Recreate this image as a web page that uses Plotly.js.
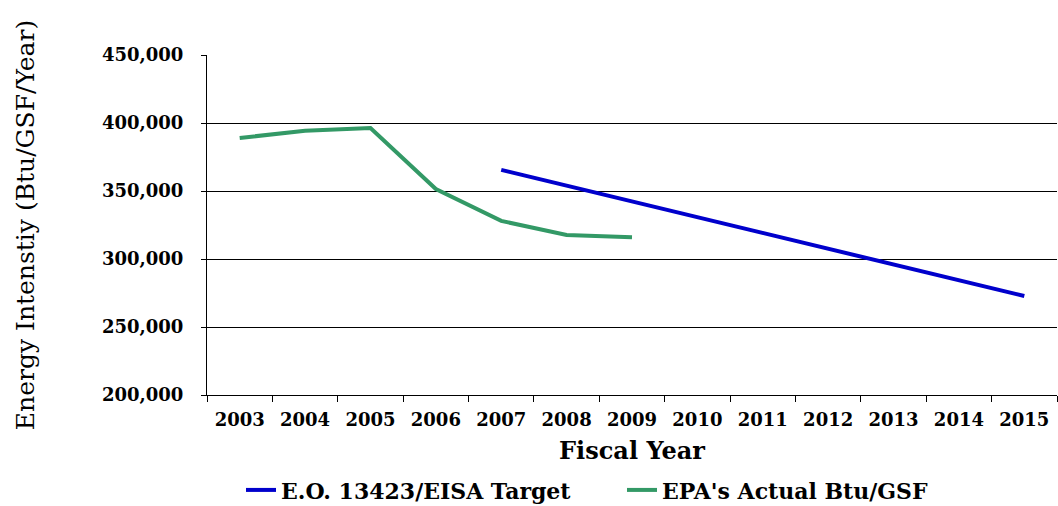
<!DOCTYPE html>
<html>
<head>
<meta charset="utf-8">
<script src="https://cdn.plot.ly/plotly-3.0.1.min.js"></script>
<style>html,body{margin:0;padding:0;background:#fff;}#chart{width:1058px;height:506px;}</style>
</head>
<body>
<div id="chart"></div>
<script>
const years = ['2003','2004','2005','2006','2007','2008','2009','2010','2011','2012','2013','2014','2015'];
const targetYears = ['2007','2008','2009','2010','2011','2012','2013','2014','2015'];
const targetValues = [365500, 353900, 342300, 330700, 319100, 307500, 296000, 284400, 272800];
const actualYears = ['2003','2004','2005','2006','2007','2008','2009'];
const actualValues = [389000, 394300, 396300, 351500, 328000, 317600, 316000];
const yTicks = [200000, 250000, 300000, 350000, 400000, 450000];

const serif = 'DejaVu Serif, Liberation Serif, serif';
const traces = [
  {x: targetYears, y: targetValues, type: 'scatter', mode: 'lines', name: 'E.O. 13423/EISA Target',
   line: {color: '#0000CC', width: 4}},
  {x: actualYears, y: actualValues, type: 'scatter', mode: 'lines', name: "EPA's Actual Btu/GSF",
   line: {color: '#339966', width: 4}}
];
const layout = {
  width: 1058, height: 506,
  margin: {l: 207, r: 1, t: 55, b: 111, pad: 0, autoexpand: false},
  paper_bgcolor: '#fff', plot_bgcolor: '#fff',
  showlegend: true,
  legend: {orientation: 'h', x: 0.04, xanchor: 'left', y: -0.218, yanchor: 'top',
    font: {family: serif, size: 22, color: '#000', weight: 'bold'},
    entrywidth: 336, entrywidthmode: 'pixels', itemwidth: 30},
  xaxis: {type: 'category', categoryorder: 'array', categoryarray: years,
    range: [-0.5, 12.5], tickson: 'boundaries', ticks: 'outside', ticklen: 6, tickcolor: '#000',
    ticklabelstandoff: 8,
    showline: true, linecolor: '#000', linewidth: 1, showgrid: false, zeroline: false,
    tickfont: {family: serif, size: 18, color: '#000', weight: 'bold'},
    title: {text: 'Fiscal Year', font: {family: serif, size: 24, color: '#000', weight: 'bold'}, standoff: 13}},
  yaxis: {range: [200000, 450000], tickvals: yTicks, tickformat: ',d',
    ticks: 'outside', ticklen: 5, tickcolor: '#000', ticklabelstandoff: 14,
    showline: true, linecolor: '#000', linewidth: 1,
    showgrid: true, gridcolor: '#000', gridwidth: 1, zeroline: false,
    tickfont: {family: serif, size: 18, color: '#000', weight: 'bold'},
    title: {text: 'Energy Intenstiy (Btu/GSF/Year)', font: {family: serif, size: 25, color: '#000'}, standoff: 60}}
};
Plotly.newPlot('chart', traces, layout, {displayModeBar: false, staticPlot: true});
</script>
</body>
</html>
